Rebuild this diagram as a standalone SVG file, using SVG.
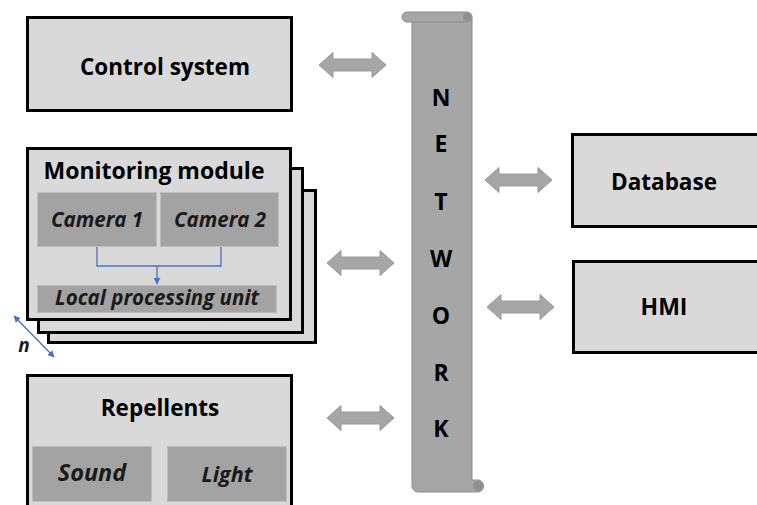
<svg xmlns="http://www.w3.org/2000/svg" width="757" height="505" viewBox="0 0 757 505">
<defs>
<style>
.box{fill:#d9d9d9;stroke:#000;stroke-width:3}
.sub{fill:#a3a3a3;stroke:#bdbdbd;stroke-width:1}
.dbl{fill:#a6a6a6;stroke:#999;stroke-width:1}
.t{font-family:"Open Sans","Liberation Sans",sans-serif;font-weight:bold;fill:#000;text-anchor:middle}
.ti{font-family:"Open Sans","Liberation Sans",sans-serif;font-weight:bold;font-style:italic;fill:#1a1a1a;text-anchor:middle}
.blue{fill:none;stroke:#4472c4;stroke-width:1.3}
</style>
<marker id="ab" viewBox="0 0 10 10" refX="9" refY="5" markerWidth="7" markerHeight="7" orient="auto-start-reverse" markerUnits="userSpaceOnUse">
<path d="M0,0 L10,5 L0,10 z" fill="#4472c4"/>
</marker>
<path id="dblarrow" d="M0,0 L14,-12.5 L14,-6 L53,-6 L53,-12.5 L67,0 L53,12.5 L53,6 L14,6 L14,12.5 Z"/>
</defs>

<g id="network">
<path d="M412,17 L472,17 L472,480 L478,480 A5.5,6 0 0 1 478,492 L418,492 A6,6 0 0 1 412,486 Z" fill="#a6a6a6" stroke="#8c8c8c" stroke-width="1"/>
<rect x="402" y="12" width="70" height="10" rx="5" fill="#a6a6a6" stroke="#8c8c8c" stroke-width="1"/>
<circle cx="467" cy="17" r="4" fill="#8f8f8f"/>
<circle cx="478" cy="486" r="5" fill="#8f8f8f"/>
<text class="t" x="441" y="106" font-size="23">N</text>
<text class="t" x="441" y="152" font-size="23">E</text>
<text class="t" x="441" y="210" font-size="23">T</text>
<text class="t" x="441" y="267" font-size="23">W</text>
<text class="t" x="441" y="324" font-size="23">O</text>
<text class="t" x="441" y="381" font-size="23">R</text>
<text class="t" x="441" y="437" font-size="23">K</text>
</g>

<g id="control-system">
<rect class="box" x="27.5" y="17.5" width="264" height="93"/>
<text class="t" x="165" y="75" font-size="22.5">Control system</text>
</g>

<g id="monitoring-module">
<rect class="box" x="48.5" y="190.5" width="267" height="152"/>
<rect class="box" x="38.5" y="168.5" width="264" height="164"/>
<rect class="box" x="27.5" y="148.5" width="263" height="171"/>
<text class="t" x="154" y="179" font-size="23">Monitoring module</text>
<g id="camera-1">
<rect class="sub" x="37.5" y="192.5" width="119" height="54"/>
<text class="ti" x="97" y="227" font-size="20.5">Camera  1</text>
</g>
<g id="camera-2">
<rect class="sub" x="160.5" y="192.5" width="118" height="54"/>
<text class="ti" x="220" y="227" font-size="20.5">Camera  2</text>
</g>
<g id="local-processing-unit">
<rect class="sub" x="37.5" y="285.5" width="239" height="27"/>
<text class="ti" x="157" y="305" font-size="20.5">Local processing  unit</text>
</g>
</g>

<g id="repellents">
<rect class="box" x="27.5" y="375.5" width="264" height="135"/>
<text class="t" x="160" y="416" font-size="22.5">Repellents</text>
<g id="sound">
<rect class="sub" x="32.5" y="446.5" width="119" height="55"/>
<text class="ti" x="92" y="481" font-size="23.5">Sound</text>
</g>
<g id="light">
<rect class="sub" x="167.5" y="446.5" width="119" height="55"/>
<text class="ti" x="227" y="482" font-size="21.5">Light</text>
</g>
</g>

<g id="database">
<rect class="box" x="572.5" y="134.5" width="190" height="92"/>
<text class="t" x="664" y="190" font-size="22.5">Database</text>
</g>

<g id="hmi">
<rect class="box" x="573.5" y="261.5" width="190" height="91"/>
<text class="t" x="664" y="315" font-size="23">HMI</text>
</g>

<g id="connectors">
<use href="#dblarrow" class="dbl" x="319" y="65"/>
<use href="#dblarrow" class="dbl" x="327" y="263"/>
<use href="#dblarrow" class="dbl" x="327" y="418"/>
<use href="#dblarrow" class="dbl" x="485" y="180"/>
<use href="#dblarrow" class="dbl" x="487" y="307"/>
<path class="blue" d="M97,247 V266 H221 V247"/>
<path class="blue" d="M157,266 V284" marker-end="url(#ab)"/>
<path class="blue" d="M14,316 L54,357" marker-start="url(#ab)" marker-end="url(#ab)"/>
<text class="ti" x="24" y="352" font-size="19" fill="#000">n</text>
</g>
</svg>
